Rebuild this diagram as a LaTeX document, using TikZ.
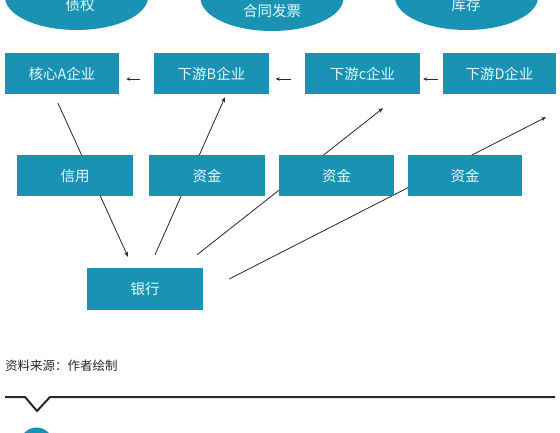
\documentclass[tikz,border=0pt]{standalone}
\usepackage{fontspec}
\newfontfamily\cjk{Noto Sans CJK SC}
\usetikzlibrary{shapes.geometric,arrows.meta,calc}
\definecolor{boxteal}{RGB}{25,146,180}
\definecolor{boxtext}{RGB}{232,250,255}
\definecolor{linegray}{RGB}{40,40,40}
\tikzset{
  box/.style={fill=boxteal, draw=none, minimum width=115pt, minimum height=41pt, inner sep=0pt,
              text=boxtext, font=\cjk\fontsize{14.5pt}{16pt}\selectfont},
  oval/.style={ellipse, fill=boxteal, draw=none, minimum width=143pt, minimum height=66pt, inner sep=0pt},
  ovaltext/.style={text=boxtext, font=\cjk\fontsize{14.5pt}{16pt}\selectfont, inner sep=0pt},
  conn/.style={draw=linegray, line width=0.8pt, -{Stealth[length=5pt,width=4pt]}},
  harrow/.style={draw=linegray, line width=0.8pt, -{Stealth[length=4pt,width=3.5pt]}},
}
\begin{document}
\begin{tikzpicture}[x=1pt,y=-1pt]
\useasboundingbox (0,0) rectangle (560,433);
\clip (0,0) rectangle (560,433);
\fill[white] (0,0) rectangle (560,433);
% top ovals
\node[oval] (o1) at (76.5,-3) {};
\node[oval] (o2) at (272,-2) {};
\node[oval] (o3) at (466.5,-3) {};
\node[ovaltext] (t1) at (80,5) {债权};
\node[ovaltext] (t2) at (272,11) {合同发票};
\node[ovaltext] (t3) at (466,5) {库存};
% row 1
\node[box, minimum width=114pt] (A) at (62,73.5) {核心A企业};
\node[box] (B) at (211.5,73.5) {下游B企业};
\node[box] (C) at (362.5,73.5) {下游c企业};
\node[box, minimum width=113pt] (D) at (499.5,73.5) {下游D企业};
\draw[harrow] ($(B.west)+(-14,5.5)$) -- ($(A.east)+(7,5.5)$);
\draw[harrow] ($(C.west)+(-14,5.5)$) -- ($(B.east)+(6.5,5.5)$);
\draw[harrow] ($(D.west)+(-5,5.5)$) -- ($(C.east)+(3,5.5)$);
% bank
\node[box, minimum width=116pt, minimum height=42pt] (bank) at (145,289) {银行};
% connectors (behind row 2)
\draw[conn] ($(A.south)+(-4,9)$) -- ($(bank.north)+(-17,-11)$);
\draw[conn] ($(bank.north)+(10,-13)$) -- ($(B.south)+(13.5,3)$);
\draw[conn] ($(bank.north)+(52,-13)$) -- ($(C.south)+(20.5,14)$);
\draw[conn] ($(bank.east)+(26,-10)$) -- ($(D.south)+(46.5,23)$);
% row 2
\node[box, minimum width=116pt] (xy) at (75,176) {信用};
\node[box, minimum width=116pt] (z1) at (207,176) {资金};
\node[box] (z2) at (336.5,176) {资金};
\node[box, minimum width=114pt] (z3) at (465,176) {资金};
% caption
\node[anchor=west, inner sep=0pt, text=linegray, font=\cjk\fontsize{12.5pt}{14pt}\selectfont] (cap) at (5,366) {资料来源：作者绘制};
% divider
\coordinate (l0) at (5,397);
\coordinate (l9) at (555,397);
\draw[linegray, line width=2pt, line join=miter] (l0) -- (25,397) -- (37,411) -- (50,397) -- (l9);
\fill[boxteal] (36.5,444) circle (16.5);
\end{tikzpicture}
\end{document}
